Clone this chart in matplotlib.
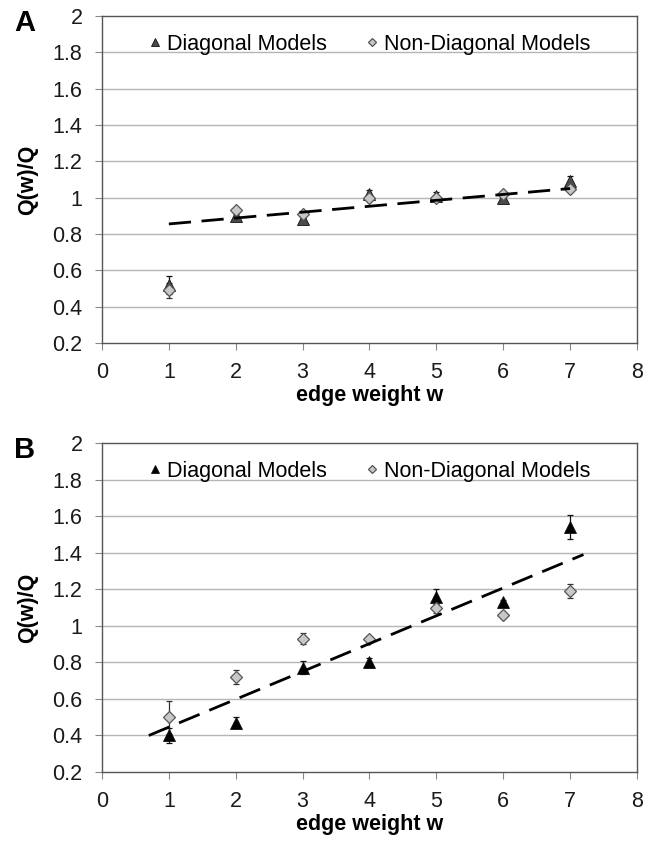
import matplotlib.pyplot as plt
import numpy as np

plt.rcParams['font.family'] = ['Liberation Sans', 'DejaVu Sans']

weights = [1, 2, 3, 4, 5, 6, 7]  # edge weight w

# panel A
diagA = [0.52, 0.90, 0.88, 1.02, 1.01, 1.00, 1.09]
diagA_err = [0.05, 0.01, 0.01, 0.02, 0.02, 0.01, 0.03]
nondiagA = [0.49, 0.93, 0.91, 1.00, 1.00, 1.02, 1.05]
nondiagA_err = [0.04, 0.01, 0.01, 0.01, 0.01, 0.01, 0.01]
fitA_x = [1.0, 7.0]
fitA_y = [0.855, 1.05]

# panel B
diagB = [0.40, 0.47, 0.77, 0.80, 1.16, 1.13, 1.54]
diagB_err = [0.04, 0.03, 0.035, 0.025, 0.04, 0.01, 0.065]
nondiagB = [0.50, 0.72, 0.93, 0.93, 1.10, 1.06, 1.19]
nondiagB_err = [0.09, 0.04, 0.03, 0.01, 0.03, 0.01, 0.04]
fitB_x = [0.7, 7.2]
fitB_y = [0.40, 1.39]

yticks = np.round(np.arange(0.2, 2.01, 0.2), 1)
xticks = range(0, 9)

fig = plt.figure(figsize=(6.55, 8.47), dpi=100)

def panel(rect, letter, diag, diag_err, nondiag, nondiag_err, fit_x, fit_y, tri_color):
    ax = fig.add_axes(rect)
    ax.set_xlim(0, 8)
    ax.set_ylim(0.2, 2)
    for y in yticks[1:-1]:  # excel style horizontal gridlines
        ax.axhline(y, color='#b5b5b5', lw=1.0, zorder=0)
    ax.errorbar(weights, diag, yerr=diag_err, fmt='none', ecolor='#111111',
                elinewidth=0.9, capsize=2.5, capthick=0.9, zorder=2)
    ax.errorbar(weights, nondiag, yerr=nondiag_err, fmt='none', ecolor='#333333',
                elinewidth=0.9, capsize=2.5, capthick=0.9, zorder=2)
    ax.plot(weights, diag, linestyle='none', marker='^', markersize=8,
            markerfacecolor=tri_color, markeredgecolor='#111111', markeredgewidth=0.6,
            label='Diagonal Models', zorder=3)
    ax.plot(weights, nondiag, linestyle='none', marker='D', markersize=6.5,
            markerfacecolor='#c8c8c8', markeredgecolor='#555555', markeredgewidth=0.9,
            label='Non-Diagonal Models', zorder=4)
    ax.plot(fit_x, fit_y, color='black', lw=2.0, dashes=(8, 3.8), zorder=5)

    ax.set_xticks(xticks)
    ax.set_yticks(yticks)
    ax.set_yticklabels([f'{v:g}' for v in yticks])
    ax.tick_params(axis='both', direction='out', length=5, width=0.8, color='#888888',
                   labelsize=15.5, labelcolor='#1a1a1a')
    ax.tick_params(axis='x', pad=9)
    ax.tick_params(axis='y', pad=9)
    for s in ax.spines.values():
        s.set_color('#555555')
        s.set_linewidth(1.0)
    ax.set_xlabel('edge weight w', fontsize=15.5, fontweight='bold', labelpad=1)
    ax.set_ylabel('Q(w)/Q', fontsize=15.5, fontweight='bold', labelpad=10)
    ax.legend(loc='upper center', ncol=2, frameon=False, fontsize=15.5, markerscale=0.7,
              handlelength=0.6, handletextpad=0.25, columnspacing=1.8,
              bbox_to_anchor=(0.5, 1.005))
    fig.text(0.022, rect[1] + rect[3] - 0.008, letter, fontsize=21, fontweight='bold',
             ha='left', va='center')
    return ax

panel([0.1557, 0.5951, 0.8168, 0.3861], 'A', diagA, diagA_err, nondiagA, nondiagA_err,
      fitA_x, fitA_y, '#4a4a4a')
panel([0.1557, 0.0885, 0.8168, 0.3884], 'B', diagB, diagB_err, nondiagB, nondiagB_err,
      fitB_x, fitB_y, 'black')

plt.savefig('out.png', dpi=100)
